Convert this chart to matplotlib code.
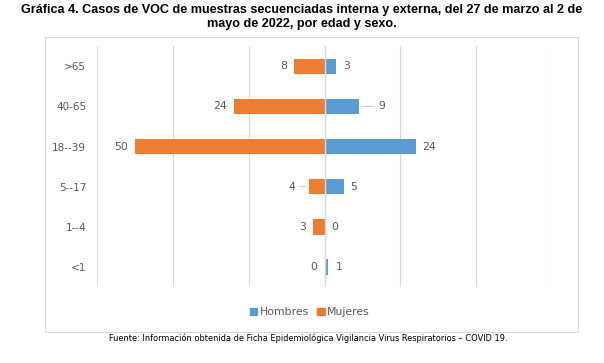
import matplotlib
matplotlib.use('Agg')
from matplotlib import pyplot as plt
from matplotlib.patches import Rectangle, Patch
import numpy as np

categories = ['>65', '40-65', '18--39', '5--17', '1--4', '<1']
hombres = [3, 9, 24, 5, 0, 1]
mujeres = [8, 24, 50, 4, 3, 0]

blue = '#5B9BD5'
orange = '#ED7D31'
txtc = '#595959'

fig = plt.figure(figsize=(6.04, 3.63), dpi=100)
ax = fig.add_axes([0.161, 0.209, 0.753, 0.664])

y = np.arange(len(categories))
ax.barh(y, hombres, height=0.38, color=blue, zorder=2)
ax.barh(y, [-m for m in mujeres], height=0.38, color=orange, zorder=2)
ax.axvline(0, color='#d9d9d9', lw=1, zorder=3)

ax.set_xlim(-60, 60)
ax.set_ylim(len(categories) - 0.5, -0.5)
ax.set_xticks(np.arange(-60, 61, 20))
ax.set_xticklabels([])
ax.tick_params(axis='x', length=0)
ax.grid(axis='x', color='#d9d9d9', lw=0.8, zorder=0)
ax.set_yticks(y)
ax.set_yticklabels(categories, fontsize=7.5, color=txtc)
ax.tick_params(axis='y', length=0, pad=8)
for s in ax.spines.values():
    s.set_visible(False)

# data labels (9 and 4 have leader lines in the original)
for i in range(len(categories)):
    h, m = hombres[i], mujeres[i]
    if i == 1:
        ax.annotate(str(h), (h, i), xytext=(14, 0), textcoords='offset points',
                    ha='left', va='center', fontsize=7.8, color=txtc,
                    arrowprops=dict(arrowstyle='-', color='#bfbfbf', lw=0.6,
                                    shrinkA=1, shrinkB=2))
    else:
        ax.annotate(str(h), (h, i), xytext=(5, 0), textcoords='offset points',
                    ha='left', va='center', fontsize=7.8, color=txtc)
    if i == 3:
        ax.annotate(str(m), (-m, i), xytext=(-10, 0), textcoords='offset points',
                    ha='right', va='center', fontsize=7.8, color=txtc,
                    arrowprops=dict(arrowstyle='-', color='#bfbfbf', lw=0.6,
                                    shrinkA=1, shrinkB=2))
    else:
        ax.annotate(str(m), (-m, i), xytext=(-5, 0), textcoords='offset points',
                    ha='right', va='center', fontsize=7.8, color=txtc)

fig.patches.append(Rectangle((0.0745, 0.0854), 0.882, 0.813, transform=fig.transFigure,
                             fill=False, edgecolor='#d9d9d9', lw=0.8))

handles = [Patch(color=blue, label='Hombres'), Patch(color=orange, label='Mujeres')]
fig.legend(handles=handles, loc='center', bbox_to_anchor=(0.513, 0.14), ncol=2,
           frameon=False, fontsize=7.8, handlelength=0.7, handleheight=0.7,
           handletextpad=0.2, columnspacing=0.8, labelcolor=txtc)

fig.text(0.5, 0.972, 'Gráfica 4. Casos de VOC de muestras secuenciadas interna y externa, del 27 de marzo al 2 de',
         ha='center', va='center', fontsize=9.1, fontweight='bold', family='Liberation Sans')
fig.text(0.5, 0.933, 'mayo de 2022, por edad y sexo.',
         ha='center', va='center', fontsize=9.1, fontweight='bold', family='Liberation Sans')
fig.text(0.51, 0.069, 'Fuente: Información obtenida de Ficha Epidemiológica Vigilancia Virus Respiratorios – COVID 19.',
         ha='center', va='center', fontsize=5.95)

fig.savefig('out.png', dpi=100)
